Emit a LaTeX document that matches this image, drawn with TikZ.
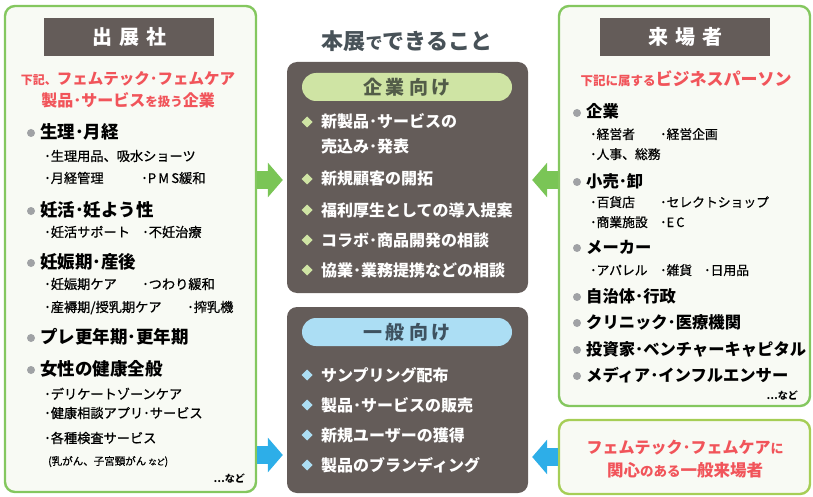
\documentclass[tikz,border=0pt]{standalone}
\usepackage{fontspec}
\setmainfont{Noto Sans CJK JP}
\newfontfamily\medfont{Noto Sans CJK JP}[FakeBold=0.7]
\usetikzlibrary{arrows.meta}
\definecolor{panelfill}{RGB}{248,250,244}
\definecolor{gborder}{RGB}{132,199,95}
\definecolor{gborderb}{RGB}{166,206,86}
\definecolor{darkc}{RGB}{100,92,89}
\definecolor{redc}{RGB}{241,84,90}
\definecolor{pillg}{RGB}{207,228,164}
\definecolor{pillb}{RGB}{172,222,244}
\definecolor{pgtext}{RGB}{82,92,72}
\definecolor{pbtext}{RGB}{62,82,96}
\definecolor{titlec}{RGB}{72,82,88}
\definecolor{bulgray}{RGB}{160,162,165}
\definecolor{garrowc}{RGB}{122,197,86}
\definecolor{barrowc}{RGB}{45,174,232}
\newcommand{\fs}[1]{\fontsize{#1}{#1}\selectfont}
\begin{document}
\begin{tikzpicture}[x=1pt,y=-1pt,
  panel/.style={draw=gborder, line width=2.4pt, fill=panelfill, rounded corners=10pt, inner sep=0pt},
  header/.style={fill=darkc, text=white, font=\fs{20}\bfseries, minimum width=170pt, minimum height=38pt, inner sep=0pt},
  cpanel/.style={fill=darkc, rounded corners=10pt, minimum width=241pt, inner sep=0pt},
  pill/.style={rounded corners=14pt, minimum width=210pt, minimum height=28pt, inner sep=0pt, font=\fs{19}\bfseries},
  big/.style={anchor=base west, inner sep=0pt, font=\fs{17.5}\bfseries},
  rbig/.style={anchor=base west, inner sep=0pt, font=\fs{16.3}\bfseries},
  sub/.style={anchor=base west, inner sep=0pt, font=\medfont\fs{13.2}},
  rsub/.style={anchor=base west, inner sep=0pt, font=\medfont\fs{12.8}},
  citem/.style={anchor=base west, inner sep=0pt, text=white, font=\fs{16}\bfseries},
  redt/.style={anchor=base, inner sep=0pt, text=redc, font=\bfseries},
  garrow/.style={draw=garrowc, line width=18pt, -{Triangle[length=15pt,width=34pt]}, shorten >=4pt},
  barrow/.style={draw=barrowc, line width=18pt, -{Triangle[length=15pt,width=34pt]}, shorten >=4pt}
]
\useasboundingbox (0,0) rectangle (813,497);
\newcommand{\bul}[2]{\fill[bulgray] (#1,#2) circle (4pt);}
\newcommand{\dia}[3]{\fill[#3] (#1,#2) +(0,-5.5) -- +(5.5,0) -- +(0,5.5) -- +(-5.5,0) -- cycle;}

% ---------- left panel ----------
\node[panel, minimum width=251pt, minimum height=486pt] (lbox) at (130.5,249) {};
\node[header] (lhead) at (129,37) {出\hspace{7pt}展\hspace{7pt}社};
\node[redt] (lred1) at (128,84.7) {{\fs{12}下記、}{\fs{15.5}フェムテック･フェムケア}};
\node[redt] (lred2) at (128,107) {{\fs{16}製品･サービス}{\fs{12.5}を扱う}{\fs{16}企業}};

\bul{31}{133}
\node[big] (l1) at (40,138.5) {生理･月経};
\node[sub] (l1a) at (44,161) {･生理用品、吸水ショーツ};
\node[sub] (l1b) at (44,183) {･月経管理};
\node[sub] (l1c) at (141,183) {･P\,M\,S緩和};
\bul{31}{211}
\node[big] (l2) at (40,216.5) {妊活･妊よう性};
\node[sub] (l2a) at (44,237) {･妊活サポート};
\node[sub] (l2b) at (142,237) {･不妊治療};
\bul{31}{263}
\node[big] (l3) at (40,268.5) {妊娠期･産後};
\node[sub] (l3a) at (44,289) {･妊娠期ケア};
\node[sub] (l3b) at (142,289) {･つわり緩和};
\node[sub] (l3c) at (44,312) {･産褥期/授乳期ケア};
\node[sub] (l3d) at (187,312) {･搾乳機};
\bul{31}{338}
\node[big] (l4) at (40,343.5) {プレ更年期･更年期};
\bul{31}{370}
\node[big] (l5) at (40,375.5) {女性の健康全般};
\node[sub] (l5a) at (44,399) {･デリケートゾーンケア};
\node[sub] (l5b) at (44,418) {･健康相談アプリ･サービス};
\node[sub] (l5c) at (44,443) {･各種検査サービス};
\node[anchor=base west, inner sep=0pt, font=\medfont\fs{10.5}] (l5d) at (48,465) {(乳がん、子宮頸がん {\fs{8}など})};
\node[anchor=base east, inner sep=0pt, font=\fs{10}\bfseries] (l5e) at (245,482) {…など};

% ---------- center ----------
\node[anchor=base, inner sep=0pt, text=titlec, font=\fs{22}\bfseries] (title) at (407,50) {本展{\fs{17}で}できること};

\node[cpanel, minimum height=231pt] (cbox1) at (407.5,177.5) {};
\node[pill, fill=pillg, text=pgtext] (pill1) at (407,87) {企\hspace{4pt}業\hspace{4pt}向\hspace{4pt}け};
\dia{307}{122}{pillg}
\node[citem] (c1) at (321,128) {新製品･サービスの};
\node[citem] (c1b) at (321,153) {売込み･発表};
\dia{307}{179}{pillg}
\node[citem] (c2) at (321,185) {新規顧客の開拓};
\dia{307}{210}{pillg}
\node[citem] (c3) at (321,216) {福利厚生としての導入提案};
\dia{307}{240}{pillg}
\node[citem] (c4) at (321,246) {コラボ･商品開発の相談};
\dia{307}{270}{pillg}
\node[citem] (c5) at (321,276) {協業･業務提携などの相談};

\node[cpanel, minimum height=186pt] (cbox2) at (407.5,400) {};
\node[pill, fill=pillb, text=pbtext] (pill2) at (407,332) {一\hspace{4pt}般\hspace{4pt}向\hspace{4pt}け};
\dia{307}{375}{pillb}
\node[citem] (d1) at (321,381) {サンプリング配布};
\dia{307}{405}{pillb}
\node[citem] (d2) at (321,411) {製品･サービスの販売};
\dia{307}{435}{pillb}
\node[citem] (d3) at (321,441) {新規ユーザーの獲得};
\dia{307}{465}{pillb}
\node[citem] (d4) at (321,471) {製品のブランディング};

% ---------- right panel ----------
\node[panel, minimum width=251pt, minimum height=400pt] (rbox) at (684.5,206) {};
\node[header] (rhead) at (685,37) {来\hspace{7pt}場\hspace{7pt}者};
\node[redt] (rred) at (686,86) {{\fs{12.5}下記に属する}{\fs{17}ビジネスパーソン}};

\bul{577}{113}
\node[rbig] (r1) at (586,118) {企業};
\node[rsub] (r1a) at (590,139) {･経営者};
\node[rsub] (r1b) at (660,139) {･経営企画};
\node[rsub] (r1c) at (590,159) {･人事、総務};
\bul{577}{182}
\node[rbig] (r2) at (586,187) {小売･卸};
\node[rsub] (r2a) at (590,207) {･百貨店};
\node[rsub] (r2b) at (660,207) {･セレクトショップ};
\node[rsub] (r2c) at (590,227) {･商業施設};
\node[rsub] (r2d) at (660,227) {･E\,C};
\bul{577}{248}
\node[rbig] (r3) at (586,253) {メーカー};
\node[rsub] (r3a) at (590,275) {･アパレル};
\node[rsub] (r3b) at (660,275) {･雑貨};
\node[rsub] (r3c) at (704,275) {･日用品};
\bul{577}{297}
\node[rbig] (r4) at (586,302) {自治体･行政};
\bul{577}{323}
\node[rbig] (r5) at (586,328) {クリニック･医療機関};
\bul{577}{350}
\node[rbig] (r6) at (586,355) {投資家･ベンチャーキャピタル};
\bul{577}{376}
\node[rbig] (r7) at (586,381) {メディア･インフルエンサー};
\node[anchor=base east, inner sep=0pt, font=\fs{10}\bfseries] (r8) at (798,399) {…など};

\node[panel, draw=gborderb, minimum width=251pt, minimum height=74pt] (rbox2) at (684.5,457) {};
\node[redt] (rb1) at (685,453) {{\fs{16}フェムテック･フェムケア}{\fs{13}に}};
\node[redt] (rb2) at (685,476) {{\fs{16.5}関心}{\fs{13.5}のある}{\fs{16.5}一般来場者}};

% ---------- arrows ----------
\coordinate (gl) at (lbox.east |- 0,180);
\coordinate (bl) at (lbox.east |- 0,455);
\coordinate (gr) at (rbox.west |- 0,180);
\draw[garrow] (gl) -- (cbox1.west |- gl);
\draw[barrow] (bl) -- (cbox2.west |- bl);
\draw[garrow] (gr) -- (cbox1.east |- gr);
\draw[barrow] (rbox2.west) -- (cbox2.east |- rbox2.west);
\end{tikzpicture}
\end{document}
